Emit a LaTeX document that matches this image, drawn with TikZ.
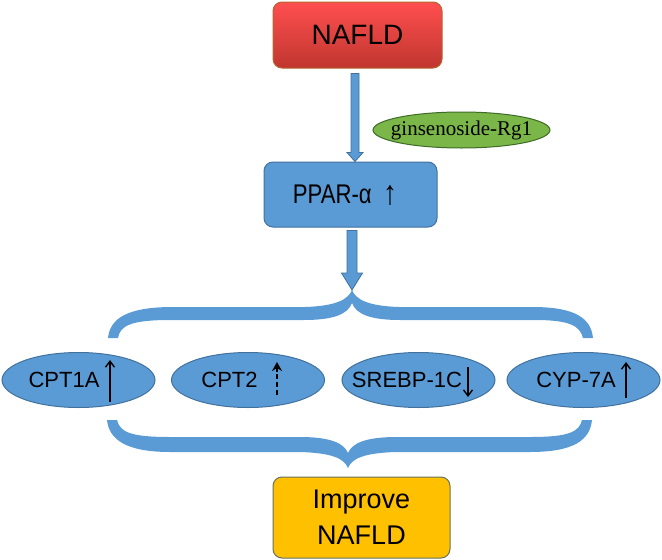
\documentclass[tikz,border=0pt]{standalone}
\usepackage{fontspec}
\setmainfont{Liberation Sans}
\newfontfamily\serifrg{Liberation Serif}
\usetikzlibrary{shapes.geometric,calc,arrows.meta}
\definecolor{ofblue}{HTML}{5B9BD5}
\definecolor{ofblueline}{HTML}{41719C}
\definecolor{redtop}{HTML}{FF4F4F}
\definecolor{redbot}{HTML}{C0362F}
\definecolor{redline}{HTML}{B5652F}
\definecolor{gold}{HTML}{FFC000}
\definecolor{goldline}{HTML}{66735C}
\definecolor{leaf}{HTML}{7AB648}
\definecolor{leafline}{HTML}{3F6B28}
\tikzset{
  boxnode/.style={draw, line width=1pt, rounded corners=9pt, align=center, inner sep=0pt},
  ellnode/.style={ellipse, draw=ofblueline, line width=1pt, fill=ofblue, minimum width=153pt, minimum height=55pt, inner sep=0pt},
  elltext/.style={inner sep=0pt, font=\fontsize{22}{26}\selectfont},
  blockarrow/.style={fill=ofblue, draw=ofblueline, line width=0.8pt},
  bracefill/.style={fill=ofblue, draw=none},
  uparr/.style={line width=1.4pt, -{Straight Barb[length=6pt,width=9pt,line width=1.4pt]}},
}
\newcommand\blockarr[5]{%
  \draw[blockarrow] let \p1=(#1), \p2=(#2) in
    (\x1-#3,\y1) -- (\x1-#3,\y2+#5) -- (\x1-#4,\y2+#5) -- (\x1,\y2) --
    (\x1+#4,\y2+#5) -- (\x1+#3,\y2+#5) -- (\x1+#3,\y1) -- cycle;}
\begin{document}
\begin{tikzpicture}[x=1pt,y=-1pt]
\useasboundingbox (0,0) rectangle (662,560);
% nodes
\node[boxnode, draw=redline, top color=redtop, bottom color=redbot, minimum width=169pt, minimum height=66pt, font=\fontsize{28}{32}\selectfont] (nafld) at (357.5,35) {NAFLD};
\node[boxnode, draw=ofblueline, fill=ofblue, minimum width=173pt, minimum height=65pt] (ppar) at (350.5,194.5) {};
\node[inner sep=0pt, font=\fontsize{27}{30}\selectfont] (ppartext) at (345,195) {\scalebox{0.82}[1]{PPAR-α\kern 14pt\raisebox{-1pt}{\fontsize{34}{34}\selectfont ↑}}};
\node[ellipse, draw=leafline, line width=1pt, fill=leaf, minimum width=177pt, minimum height=36pt, inner sep=0pt] (gins) at (461.5,130) {};
\node[inner sep=0pt, font=\serifrg\fontsize{21}{24}\selectfont] (ginstext) at (gins.center) {ginsenoside-Rg1};
\node[boxnode, draw=goldline, fill=gold, minimum width=177pt, minimum height=81pt, font=\fontsize{27}{36}\selectfont] (improve) at (361.5,517.5) {Improve\\NAFLD};
\node[ellnode] (cpt1a) at (78.5,380) {};
\node[ellnode] (cpt2) at (248,380) {};
\node[ellnode] (srebp) at (418.5,380) {};
\node[ellnode] (cyp) at (583.5,380) {};
\node[elltext] (t1) at ($(cpt1a.center)+(-14.5,0)$) {CPT1A};
\node[elltext] (t2) at ($(cpt2.center)+(-18.5,0)$) {CPT2};
\node[elltext] (t3) at ($(srebp.center)+(-11.5,0)$) {SREBP-1C};
\node[elltext] (t4) at ($(cyp.center)+(-7.5,0)$) {CYP-7A};
% small arrows inside ellipses
\draw[uparr] ($(cpt1a.center)+(31.5,22)$) -- ($(cpt1a.center)+(31.5,-20)$);
\draw[line width=2.4pt, dash pattern=on 5pt off 3pt] ($(cpt2.center)+(29,15)$) -- ($(cpt2.center)+(29,-10)$);
\draw[line width=2.4pt, -{Stealth[length=9pt,width=10pt]}] ($(cpt2.center)+(29,-8)$) -- ($(cpt2.center)+(29,-18)$);
\draw[uparr] ($(srebp.center)+(49.5,-13)$) -- ($(srebp.center)+(49.5,17)$);
\draw[uparr] ($(cyp.center)+(42.5,18)$) -- ($(cyp.center)+(42.5,-18)$);
% braces
\coordinate (bt) at (352,290);
\fill[bracefill] (108,338) .. controls (110,318) and (128,307.5) .. (170,307) -- (305,307)
  .. controls (335,306) and (348,300) .. (bt)
  .. controls (356,300) and (369,306) .. (399,307) -- (535,307)
  .. controls (575,307.5) and (591,318) .. (593,338) -- (583,338)
  .. controls (580,326) and (570,320) .. (535,320) -- (400,320)
  .. controls (370,320) and (356,314) .. (352,303)
  .. controls (348,314) and (334,320) .. (304,320) -- (170,320)
  .. controls (130,320) and (120,326) .. (118,338) -- cycle;
\fill[bracefill] (107,420) .. controls (109,440) and (127,452) .. (170,452) -- (300,452)
  .. controls (331,453) and (344,458) .. (348,468)
  .. controls (352,458) and (365,453) .. (396,452) -- (530,452)
  .. controls (574,452) and (590,440) .. (592,420) -- (582,420)
  .. controls (579,432) and (569,437) .. (530,437) -- (397,437)
  .. controls (366,437) and (352,443) .. (348,453)
  .. controls (344,443) and (330,437) .. (300,437) -- (170,437)
  .. controls (130,437) and (120,432) .. (117,420) -- cycle;
% block arrows
\coordinate (a1s) at ($(nafld.south)+(-2.5,5)$);
\coordinate (a1e) at (a1s |- ppar.north);
\blockarr{a1s}{a1e}{4pt}{8pt}{9pt}
\coordinate (a2s) at ($(ppar.south)+(1.5,3)$);
\blockarr{a2s}{bt}{5pt}{10.5pt}{17pt}
\end{tikzpicture}
\end{document}
